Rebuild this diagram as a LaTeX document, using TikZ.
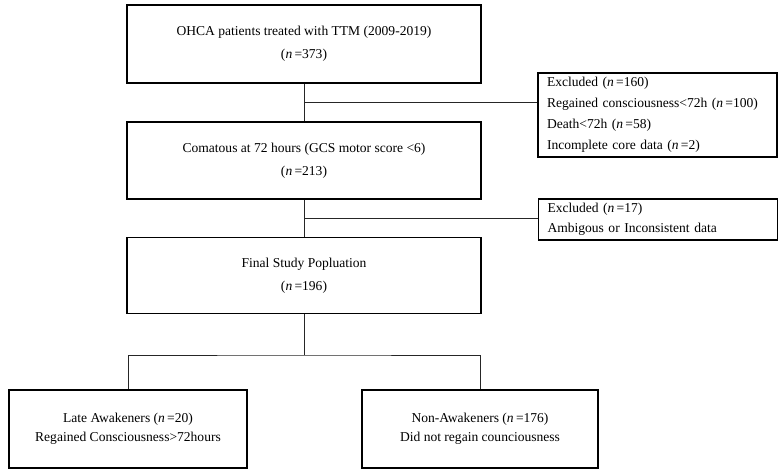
\documentclass[tikz,border=0pt]{standalone}
\usepackage{fontspec}
\setmainfont{Liberation Serif}
\begin{document}
\begin{tikzpicture}[x=1bp,y=-1bp,
  box/.style={draw=black,line width=1.6bp,inner sep=0pt,align=center,
    font=\fontsize{13.6}{23}\selectfont},
  flowbox/.style={box,minimum width=354bp},
  leafbox/.style={box,minimum width=238bp,minimum height=78bp,
    font=\fontsize{13.6}{19}\selectfont},
  sidebox/.style={box,align=left,text width=221bp,inner xsep=9bp},
  link/.style={draw=black!85,line width=0.8bp}]
\useasboundingbox (0,0) rectangle (782,473);

% main column
\node[flowbox,minimum height=78bp] (b1) at (304,44)
  {OHCA patients treated with TTM (2009-2019)\\(\textit{n}\,=373)};
\node[flowbox,minimum height=77bp] (b3) at (304,160.5)
  {Comatous at 72 hours (GCS motor score <6)\\(\textit{n}\,=213)};
\node[flowbox,minimum height=76bp] (b5) at (304,275.5)
  {Final Study Popluation\\(\textit{n}\,=196)};

% exclusion boxes
\node[sidebox,minimum height=84bp,font=\fontsize{13.6}{21}\selectfont] (b2) at (657.5,115)
  {Excluded (\textit{n}\,=160)\\Regained consciousness<72h (\textit{n}\,=100)\\Death<72h (\textit{n}\,=58)\\Incomplete core data (\textit{n}\,=2)};
\node[sidebox,minimum height=41bp,font=\fontsize{13.6}{20}\selectfont] (b4) at (658,219.5)
  {Excluded (\textit{n}\,=17)\\Ambigous or Inconsistent data};

% outcome groups
\node[leafbox] (b6) at (128,429)
  {Late Awakeners (\textit{n}\,=20)\\Regained Consciousness>72hours};
\node[leafbox,minimum width=236bp] (b7) at (480,429)
  {Non-Awakeners (\textit{n}\,=176)\\Did not regain counciousness};

% connectors
\coordinate (j1) at (304,102.5);
\coordinate (j2) at (304,218.5);
\coordinate (fork) at (304,355);
\draw[link] (b1.south) -- (b3.north);
\draw[link] (j1) -- (j1 -| b2.west);
\draw[link] (b3.south) -- (b5.north);
\draw[link] (j2) -- (j2 -| b4.west);
\draw[link] (b5.south) -- (fork);
\draw[link] (b6.north) |- (fork) -| (b7.north);
\end{tikzpicture}
\end{document}
